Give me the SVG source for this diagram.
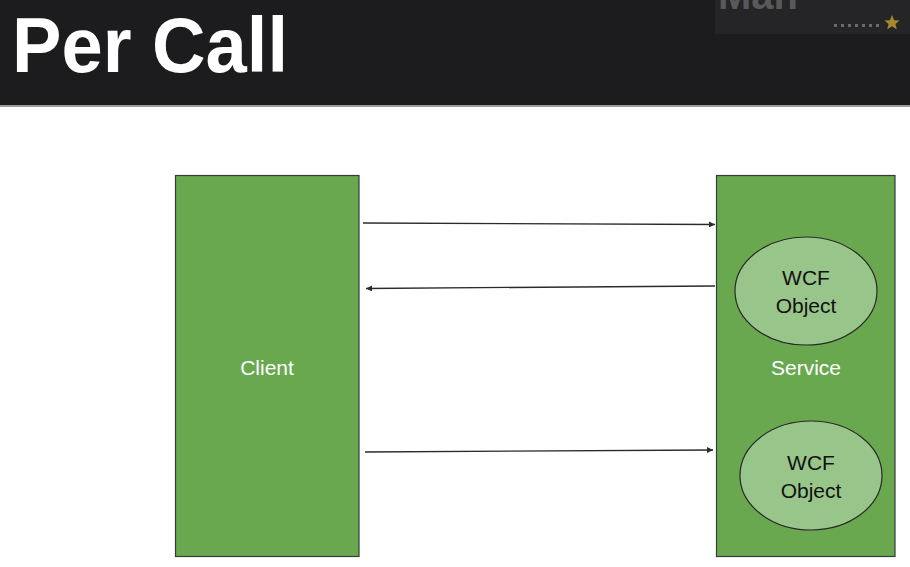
<svg xmlns="http://www.w3.org/2000/svg" width="910" height="567" viewBox="0 0 910 567">
<style>
.box{fill:#6aa84f;stroke:#3a3a3a;stroke-width:1.2}
.obj{fill:#98c68a;stroke:#2a2a2a;stroke-width:1.2}
.lbl{font-family:"Liberation Sans",Arial,sans-serif;font-size:21px;text-anchor:middle}
.w{fill:#ffffff}
.k{fill:#111111}
.conn{stroke:#2b2b2b;stroke-width:1.3;fill:none;marker-end:url(#ah)}
</style>
<defs>
<marker id="ah" viewBox="0 0 10 10" refX="10" refY="5" markerWidth="8" markerHeight="6" markerUnits="userSpaceOnUse" orient="auto">
<path d="M0,0 L10,5 L0,10 z" fill="#2b2b2b"/>
</marker>
</defs>
<rect x="0" y="0" width="910" height="567" fill="#ffffff"/>
<g id="header">
<rect x="0" y="0" width="910" height="106" fill="#1c1b1d"/>
<rect x="0" y="105" width="910" height="2" fill="#9a9a9a"/>
<rect x="715" y="0" width="195" height="34" fill="#252527"/>
<text x="718" y="9" font-family="Liberation Sans,Arial,sans-serif" font-weight="bold" font-size="40" fill="#59595b">Man</text>
<g fill="#6a6a6c">
<rect x="834" y="24" width="3" height="3"/><rect x="841" y="24" width="3" height="3"/><rect x="848" y="24" width="3" height="3"/><rect x="855" y="24" width="3" height="3"/><rect x="862" y="24" width="3" height="3"/><rect x="869" y="24" width="3" height="3"/><rect x="876" y="24" width="3" height="3"/>
</g>
<polygon points="892,15 894.1,20.2 899.6,20.5 895.4,23.9 896.8,29.2 892,26.2 887.2,29.2 888.6,23.9 884.4,20.5 889.9,20.2" fill="#a98a2a"/>
<text x="12" y="72" font-family="Liberation Sans,Arial,sans-serif" font-weight="bold" font-size="78" fill="#ffffff" textLength="276" lengthAdjust="spacingAndGlyphs">Per Call</text>
</g>
<g id="client">
<rect class="box" x="175.5" y="175.5" width="183.5" height="381"/>
<text class="lbl w" x="267" y="375">Client</text>
</g>
<g id="service">
<rect class="box" x="716.5" y="175.5" width="178.5" height="381"/>
<text class="lbl w" x="806" y="375">Service</text>
</g>
<g id="wcf1">
<ellipse class="obj" cx="806" cy="291" rx="71" ry="54"/>
<text class="lbl k" x="806" y="285">WCF</text>
<text class="lbl k" x="806" y="313">Object</text>
</g>
<g id="wcf2">
<ellipse class="obj" cx="811" cy="475.5" rx="71" ry="54.5"/>
<text class="lbl k" x="811" y="470">WCF</text>
<text class="lbl k" x="811" y="498">Object</text>
</g>
<g id="connectors">
<line class="conn" x1="363" y1="223" x2="715" y2="224.5"/>
<line class="conn" x1="715" y1="286" x2="366" y2="288.5"/>
<line class="conn" x1="365" y1="452" x2="713" y2="450"/>
</g>
</svg>
